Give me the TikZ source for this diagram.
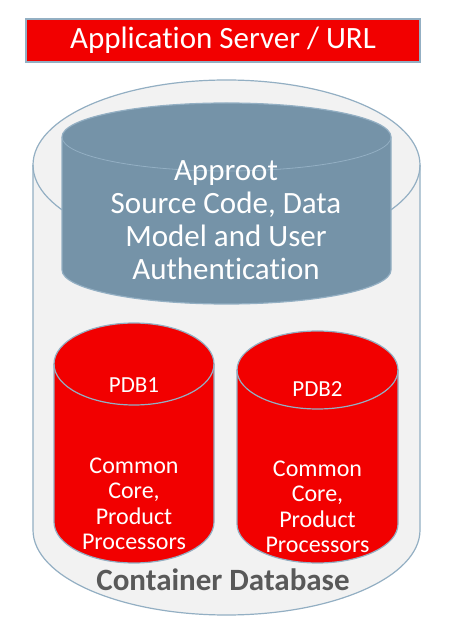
\documentclass[tikz,border=0pt]{standalone}
\usepackage{fontspec}
\setmainfont[Ligatures=CommonOff]{Carlito}
\begin{document}
\begin{tikzpicture}[x=1pt,y=1pt,
  edge/.style={draw=edgecol, line width=1.2pt},
  wtext/.style={text=white, align=center, inner sep=0pt}]
\definecolor{edgecol}{HTML}{93AFC3}
\definecolor{outerfill}{HTML}{F2F2F2}
\definecolor{bluefill}{HTML}{7593A8}
\definecolor{redfill}{HTML}{F20000}
\definecolor{cdbtext}{HTML}{595959}
\useasboundingbox[fill=white] (0,0) rectangle (463,627);
% title bar
\node[draw=edgecol, line width=1.5pt, fill=redfill, minimum width=394pt, minimum height=43pt,
  inner sep=0pt, text=white, font=\fontsize{31}{36}\selectfont] (app) at (223,586.5) {Application Server / URL};
% outer cylinder
\path[edge, fill=outerfill] (33,462) -- (33,97) arc[start angle=180,end angle=360,x radius=193.5pt,y radius=85pt]
  -- (420,462) arc[start angle=0,end angle=180,x radius=193.5pt,y radius=85pt] -- cycle;
\draw[edge] (33,462) arc[start angle=180,end angle=360,x radius=193.5pt,y radius=85pt];
% blue cylinder
\path[edge, fill=bluefill] (62,490) -- (62,357) arc[start angle=180,end angle=360,x radius=164.5pt,y radius=34pt]
  -- (391,490) arc[start angle=0,end angle=180,x radius=164.5pt,y radius=34pt] -- cycle;
\draw[edge, line width=0.8pt] (62,490) arc[start angle=180,end angle=360,x radius=164.5pt,y radius=34pt];
% PDB1
\path[edge, fill=redfill] (54,263) -- (54,105) arc[start angle=180,end angle=360,x radius=80pt,y radius=41pt]
  -- (214,263) arc[start angle=0,end angle=180,x radius=80pt,y radius=41pt] -- cycle;
\draw[edge] (54,263) arc[start angle=180,end angle=360,x radius=80pt,y radius=41pt];
% PDB2
\path[edge, fill=redfill] (237,257) -- (237,103) arc[start angle=180,end angle=360,x radius=80.5pt,y radius=39pt]
  -- (398,257) arc[start angle=0,end angle=180,x radius=80.5pt,y radius=39pt] -- cycle;
\draw[edge] (237,257) arc[start angle=180,end angle=360,x radius=80.5pt,y radius=39pt];
% texts
\node[wtext, font=\fontsize{31}{33}\selectfont] (approot) at (226,407)
  {Approot\\Source Code, Data\\Model and User\\Authentication};
\node[wtext, font=\fontsize{23}{25}\selectfont] (pdb1) at (134,242) {PDB1};
\node[wtext, font=\fontsize{23}{25}\selectfont] (pdb2) at (317.5,238) {PDB2};
\node[wtext, font=\fontsize{24}{25.5}\selectfont] (core1) at (134,123)
  {Common\\Core,\\Product\\Processors};
\node[wtext, font=\fontsize{24}{25.5}\selectfont] (core2) at (317.5,120)
  {Common\\Core,\\Product\\Processors};
\node[inner sep=0pt, text=cdbtext, font=\bfseries\fontsize{31}{34}\selectfont] (cdb) at (223,47) {Container Database};
\end{tikzpicture}
\end{document}
